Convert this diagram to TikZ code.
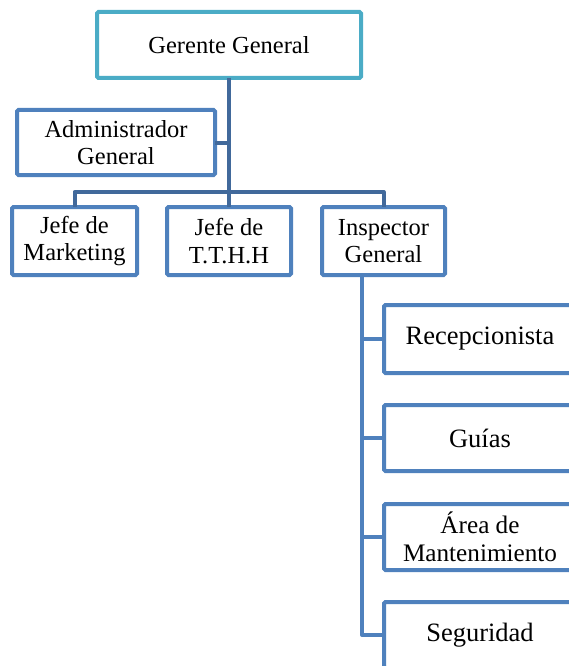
\documentclass[tikz,border=0pt]{standalone}
\usepackage{fontspec}
\setmainfont{Liberation Serif}
\definecolor{topc}{HTML}{4BACC6}
\definecolor{boxc}{HTML}{4F81BD}
\definecolor{linec}{HTML}{41699B}
\begin{document}
\begin{tikzpicture}[x=1pt,y=-1pt,
  box/.style={draw=boxc, line width=4pt, rounded corners=1.5pt, fill=white,
    inner sep=0pt, outer sep=0pt, align=center,
    font=\fontsize{24.5}{27.5}\selectfont},
  rbox/.style={box, minimum width=192pt, minimum height=66pt,
    font=\fontsize{26.5}{28}\selectfont},
  conn/.style={draw=linec, line width=4pt, line join=round},
  conn2/.style={draw=boxc, line width=4pt, line join=round}]
\useasboundingbox (0,0) rectangle (569,666);
\clip (0,0) rectangle (569,666);
\coordinate (bar) at (229,192);
\coordinate (ispine) at (362,277);
\node[box, draw=topc, minimum width=264pt, minimum height=66pt] (gg) at (229,45) {Gerente General};
\node[box, minimum width=198pt, minimum height=65pt] (adm) at (116,142.5) {Administrador\\General};
\node[box, minimum width=125pt, minimum height=68pt] (mkt) at (74.5,241) {Jefe de\\Marketing};
\node[box, minimum width=124pt, minimum height=68pt] (tth) at (229,241) {Jefe de\\T.T.H.H};
\node[box, minimum width=123pt, minimum height=68pt] (ins) at (383.5,241) {Inspector\\General};
\node[rbox, minimum height=68pt] (rec) at (480,339) {Recepcionista};
\node[rbox] (gui) at (480,438) {Guías};
\node[rbox, font=\fontsize{25.2}{27.5}\selectfont] (are) at (480,537) {Área de\\Mantenimiento};
\node[rbox] (seg) at (480,635) {Seguridad};
\draw[conn] (gg.south) -- (tth.north);
\draw[conn] (adm.east) -- (adm.east -| gg.south);
\draw[conn] (mkt.north) |- (bar) -| (ins.north);
\draw[conn2] (ispine) |- (seg.west);
\draw[conn2] (ispine |- rec.west) -- (rec.west);
\draw[conn2] (ispine |- gui.west) -- (gui.west);
\draw[conn2] (ispine |- are.west) -- (are.west);
\end{tikzpicture}
\end{document}
